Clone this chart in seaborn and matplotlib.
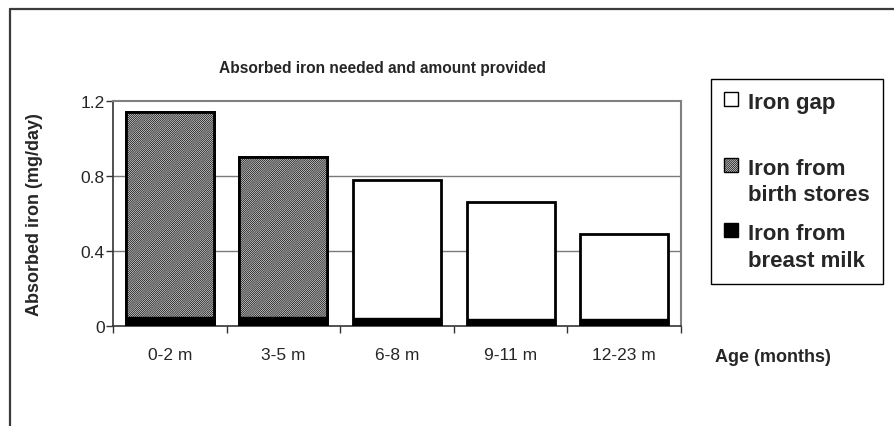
import numpy as np
import pandas as pd
import matplotlib
matplotlib.use("Agg")
import matplotlib.pyplot as plt
import seaborn as sns
from matplotlib.patches import Patch
from matplotlib.lines import Line2D

# data (mg/day)
ages = ["0-2 m", "3-5 m", "6-8 m", "9-11 m", "12-23 m"]
breast_milk = [0.05, 0.05, 0.045, 0.04, 0.04]
birth_stores = [1.09, 0.85, 0.0, 0.0, 0.0]
iron_gap = [0.0, 0.0, 0.735, 0.62, 0.45]

df = pd.DataFrame({"age": ages, "milk": breast_milk,
                   "stores": birth_stores, "gap": iron_gap})
df["milk_stores"] = df["milk"] + df["stores"]
df["total"] = df["milk_stores"] + df["gap"]

sns.set_style("white")
plt.rcParams["font.family"] = ["Liberation Sans", "DejaVu Sans"]
plt.rcParams["hatch.linewidth"] = 0.5
plt.rcParams["hatch.color"] = "#2a2a2a"

HATCH = "/" * 16
GREY = "#e0e0e0"

fig = plt.figure(figsize=(8.94, 4.27), dpi=100)
ax = fig.add_axes([113 / 894, 1 - 327 / 427, 568 / 894, 225 / 427])

bw = 0.775
# stacked bars drawn as overlapping cumulative totals
sns.barplot(data=df, x="age", y="total", color="white", edgecolor="black",
            linewidth=2, width=bw, saturation=1, ax=ax, zorder=3)
sns.barplot(data=df[df["stores"] > 0], x="age", y="milk_stores", color=GREY,
            edgecolor="black", linewidth=2, width=bw, saturation=1,
            hatch=HATCH, ax=ax, zorder=3, order=ages)
sns.barplot(data=df, x="age", y="milk", color="black", edgecolor="black",
            linewidth=1, width=bw, saturation=1, ax=ax, zorder=4)

ax.set_ylim(0, 1.2)
ax.set_xlim(-0.5, 4.5)
ax.set_yticks([0, 0.4, 0.8, 1.2])
ax.set_yticklabels(["0", "0.4", "0.8", "1.2"], fontsize=12.5)
ax.tick_params(axis="y", length=5, width=1, color="#333333", left=True, pad=1)
ax.tick_params(axis="x", length=0, labelsize=12.5, pad=15)
ax.set_xticks(np.arange(-0.5, 5, 1), minor=True)
ax.tick_params(axis="x", which="minor", length=5, width=1, color="#333333", bottom=True)
for y in [0.4, 0.8]:
    ax.axhline(y, color="#7a7a7a", lw=1, zorder=1)

for s in ["top", "right"]:
    ax.spines[s].set_color("#808080")
    ax.spines[s].set_linewidth(1.5)
for s in ["left", "bottom"]:
    ax.spines[s].set_color("#333333")
    ax.spines[s].set_linewidth(1.2)

ax.set_xlabel("")
ax.set_ylabel("Absorbed iron (mg/day)", fontsize=13, fontweight="bold")
ax.yaxis.set_label_coords((43 - 113) / 568, 0.5)

fig.text(382 / 894, 1 - 68 / 427, "Absorbed iron needed and amount provided",
         ha="center", va="center", fontsize=11.2, fontweight="bold")
fig.text(773 / 894, 1 - 357 / 427, "Age (months)", ha="center", va="center",
         fontsize=13, fontweight="bold")

handles = [Patch(facecolor="white", edgecolor="black", lw=1),
           Patch(facecolor=GREY, edgecolor="black", hatch=HATCH, lw=1),
           Patch(facecolor="black", edgecolor="black", lw=1)]
labels = ["Iron gap\n ", "Iron from\nbirth stores", "Iron from\nbreast milk"]
leg = fig.legend(handles, labels, loc="upper left",
                 bbox_to_anchor=(711 / 894, 1 - 80 / 427),
                 prop={"weight": "bold", "size": 16}, frameon=True,
                 fancybox=False, edgecolor="black", framealpha=1,
                 handlelength=0.6, handleheight=0.6, handletextpad=0.45,
                 labelspacing=0.8, borderpad=0.6, borderaxespad=0)
leg.get_frame().set_linewidth(1)
for t in leg.get_texts():
    t.set_linespacing(1.35)
# put the marker next to the first line of each label
for col in leg._legend_handle_box.get_children():
    for item in col.get_children():
        item.align = "top"

# outer chart frame (top and left edges visible)
fig.add_artist(Line2D([10 / 894, 1], [1 - 10 / 427, 1 - 10 / 427],
                      transform=fig.transFigure, color="#3a3a3a", lw=1.6))
fig.add_artist(Line2D([10 / 894, 10 / 894], [1 - 10 / 427, 0],
                      transform=fig.transFigure, color="#3a3a3a", lw=1.6))

fig.savefig("out.png", dpi=100)
